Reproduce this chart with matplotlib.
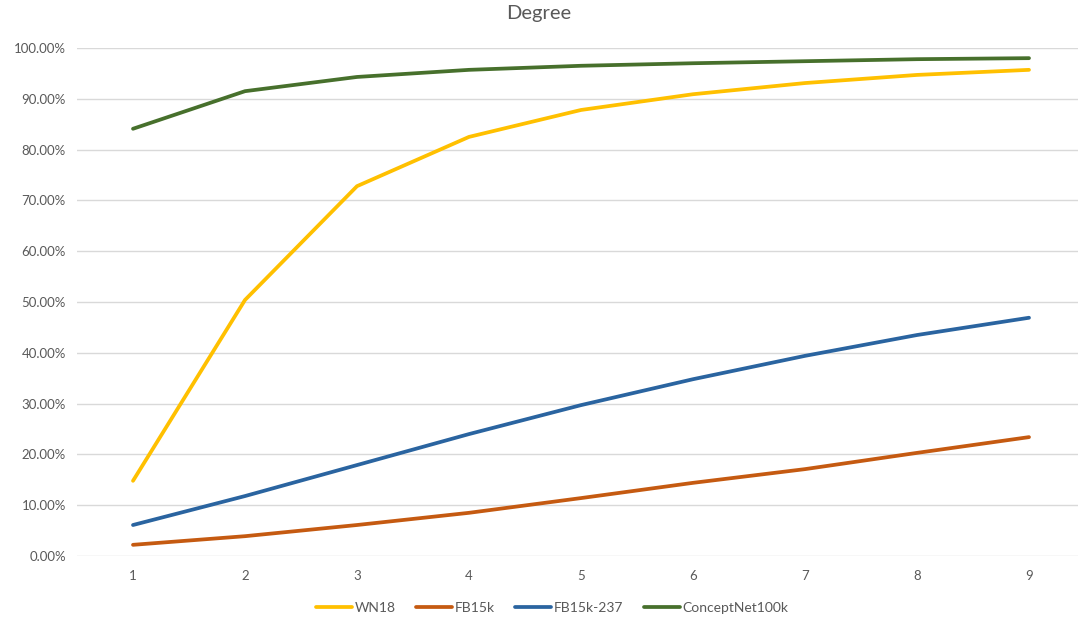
import matplotlib
matplotlib.use("Agg")
import matplotlib.pyplot as plt
from matplotlib.ticker import PercentFormatter, FixedLocator

degrees = [1, 2, 3, 4, 5, 6, 7, 8, 9]
wn18 = [14.8, 50.4, 72.8, 82.5, 87.8, 90.9, 93.1, 94.7, 95.7]
fb15k = [2.2, 3.9, 6.1, 8.5, 11.4, 14.4, 17.1, 20.3, 23.4]
fb15k237 = [6.1, 11.8, 17.9, 24.0, 29.7, 34.8, 39.4, 43.5, 46.9]
conceptnet = [84.1, 91.5, 94.3, 95.7, 96.5, 97.0, 97.4, 97.8, 98.0]
series_names = ["WN18", "FB15k", "FB15k-237", "ConceptNet100k"]
colors = ["#FFC000", "#C55A11", "#2A64A0", "#47702C"]

plt.rcParams['font.family'] = ['Lato', 'DejaVu Sans']
W, H = 1078, 624
fig = plt.figure(figsize=(W / 100, H / 100), dpi=100)
left, right, top, bottom = 77, 1078, 48, 556
ax = fig.add_axes([left / W, 1 - bottom / H, (right - left) / W, (bottom - top) / H])

txt = "#595959"
for name, vals, c in zip(series_names, [wn18, fb15k, fb15k237, conceptnet], colors):
    ax.plot(degrees, [v / 100 for v in vals], color=c, lw=2.7, label=name,
            solid_capstyle='round', solid_joinstyle='round', clip_on=False)

ax.set_xlim(0.5, 0.5 + (right - left) / 112)
ax.set_ylim(0, 1)
ax.yaxis.set_major_locator(FixedLocator([i / 10 for i in range(11)]))
ax.yaxis.set_major_formatter(PercentFormatter(1.0, decimals=2))
ax.set_xticks(degrees)
ax.set_xticklabels([str(d) for d in degrees])
ax.grid(axis='y', color='#D9D9D9', lw=1)
ax.set_axisbelow(True)
for s in ax.spines.values():
    s.set_visible(False)
ax.tick_params(axis='both', length=0, colors=txt, labelsize=9.5)
ax.tick_params(axis='x', pad=10)
ax.tick_params(axis='y', pad=8)

fig.text(0.5, 1 - 14 / H, "Degree", ha='center', va='center', fontsize=14.5, color=txt)
leg = fig.legend(loc='center', bbox_to_anchor=(552 / W, 1 - 608 / H), ncol=4, frameon=False,
                 fontsize=10, handlelength=2.6, handletextpad=0.15, columnspacing=1.5)
for t in leg.get_texts():
    t.set_color(txt)

fig.savefig("out.png", dpi=100, facecolor='white')
